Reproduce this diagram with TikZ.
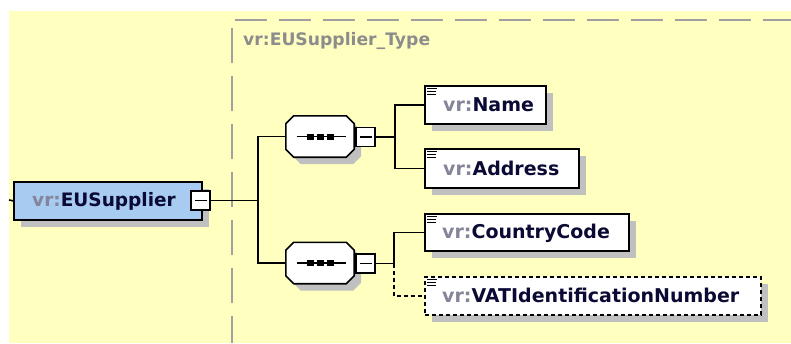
\documentclass[tikz,border=0pt]{standalone}
\usepackage{fontspec}
\setmainfont{DejaVu Sans}
\definecolor{bgyellow}{HTML}{FFFFC0}
\definecolor{elblue}{HTML}{A8CBF2}
\definecolor{shadowgray}{HTML}{C0C0C0}
\definecolor{framegray}{HTML}{A0A0A0}
\definecolor{prefixgray}{HTML}{85859A}
\definecolor{namenavy}{HTML}{0A0A34}
\definecolor{typegray}{HTML}{8C8C8C}
\tikzset{
  elem/.style={draw=black, line width=1.6pt, fill=white, rectangle, inner sep=0pt, anchor=north west,
    preaction={draw=none, fill=shadowgray, transform canvas={shift={(7pt,-7pt)}}}},
  optelem/.style={elem, dash pattern=on 4pt off 3pt},
  minusbox/.style={draw=black, line width=1.4pt, fill=white, rectangle, inner sep=0pt, minimum size=19pt,
    path picture={\draw[line width=1.3pt] ([xshift=3.5pt]path picture bounding box.west) -- ([xshift=-3.5pt]path picture bounding box.east);}},
  seqspot/.style={rectangle, inner sep=0pt, minimum width=68pt, minimum height=41pt},
  conn/.style={draw=black, line width=1.6pt},
  optconn/.style={conn, dash pattern=on 4pt off 3pt},
  iconline/.style={draw=black, line width=1.2pt},
  framedash/.style={draw=framegray, line width=2pt},
  lbl/.style={anchor=base west, inner sep=0pt, font=\bfseries\fontsize{19}{22}\selectfont},
}
\newcommand{\seqoct}[2]{%
  \path[#2] ([xshift=8pt]#1.north west) -- ([xshift=-8pt]#1.north east) -- ([yshift=-8pt]#1.north east)
    -- ([yshift=8pt]#1.south east) -- ([xshift=-8pt]#1.south east) -- ([xshift=8pt]#1.south west)
    -- ([yshift=8pt]#1.south west) -- ([yshift=-8pt]#1.north west) -- cycle;}
\newcommand{\seqinner}[1]{%
  \draw[line width=1.4pt] ([xshift=-23pt]#1.center) -- ([xshift=26pt]#1.center);
  \fill[black] ([xshift=-13.5pt,yshift=-3pt]#1.center) rectangle ++(7pt,6pt);
  \fill[black] ([xshift=-3.5pt,yshift=-3pt]#1.center) rectangle ++(7pt,6pt);
  \fill[black] ([xshift=6.5pt,yshift=-3pt]#1.center) rectangle ++(7pt,6pt);}
\newcommand{\elicon}[1]{%
  \draw[iconline] ([xshift=3pt,yshift=-3.5pt]#1.north west) -- ++(10pt,0pt);
  \draw[iconline] ([xshift=3pt,yshift=-6.5pt]#1.north west) -- ++(9pt,0pt);
  \draw[iconline] ([xshift=3pt,yshift=-9.5pt]#1.north west) -- ++(9pt,0pt);}
\begin{document}
\begin{tikzpicture}[x=1pt, y=-1pt]
\useasboundingbox (0,0) rectangle (791,343);
\fill[white] (0,0) rectangle (791,343);
\fill[bgyellow] (9,11) rectangle (791,343);
% type frame
\draw[framedash, dash pattern=on 32pt off 12pt] (235,19.5) -- (791,19.5);
\draw[framedash, dash pattern=on 35pt off 13pt] (232,28) -- (232,343);
\node[anchor=base west, inner sep=0pt, text=typegray, font=\bfseries\fontsize{17.2}{20}\selectfont] (typelbl) at (243,45) {vr:EUSupplier\_Type};

% root element
\node[elem, fill=elblue, minimum width=188pt, minimum height=38pt] (eus) at (13,181) {};
\node[lbl, font=\bfseries\fontsize{18.5}{22}\selectfont] (euslbl) at (32,206) {\textcolor{prefixgray}{vr:}\textcolor{namenavy}{EUSupplier}};
\node[minusbox] (eusmin) at (200.5,200.5) {};
\coordinate (rootin) at (9,200);
\coordinate (j1) at (258,200.5);

% sequences
\node[seqspot] (seqA) at (320,136.5) {};
\node[seqspot] (seqB) at (320,263) {};
\begin{scope}[transform canvas={shift={(7pt,-7pt)}}]
  \seqoct{seqA}{fill=shadowgray}
  \seqoct{seqB}{fill=shadowgray}
\end{scope}
\seqoct{seqA}{draw=black, line width=1.6pt, fill=white}
\seqoct{seqB}{draw=black, line width=1.6pt, fill=white}
\seqinner{seqA}
\seqinner{seqB}
\node[minusbox] (seqAm) at (365.5,137) {};
\node[minusbox] (seqBm) at (365.5,263.5) {};
\coordinate (j2) at (395,137);
\coordinate (j3) at (394,263.5);

% child elements
\node[elem, minimum width=121pt, minimum height=38pt] (name) at (424,85) {};
\node[elem, minimum width=154pt, minimum height=39pt] (addr) at (424,148) {};
\node[elem, minimum width=204pt, minimum height=37pt] (ctry) at (424,213) {};
\node[optelem, minimum width=336pt, minimum height=38pt] (vat) at (424,276) {};
\elicon{name}
\elicon{addr}
\elicon{ctry}
\elicon{vat}
\node[lbl] (namelbl) at (443,111) {\textcolor{prefixgray}{vr:}\textcolor{namenavy}{Name}};
\node[lbl] (addrlbl) at (443,175) {\textcolor{prefixgray}{vr:}\textcolor{namenavy}{Address}};
\node[lbl] (ctrylbl) at (442,238) {\textcolor{prefixgray}{vr:}\textcolor{namenavy}{CountryCode}};
\node[lbl] (vatlbl) at (442,302) {\textcolor{prefixgray}{vr:}\textcolor{namenavy}{VATIdentificationNumber}};

% connectors
\draw[conn] (rootin) -- (eus.west);
\draw[conn] (eusmin.east) -- (j1);
\draw[conn] (seqA.west) -| (j1) |- (seqB.west);
\draw[conn] (seqAm.east) -- (j2);
\draw[conn] (name.west) -| (j2) |- (addr.west);
\draw[conn] (seqBm.east) -- (j3);
\draw[conn] (ctry.west) -| (j3);
\draw[optconn] (j3) |- (vat.west);
\end{tikzpicture}
\end{document}
